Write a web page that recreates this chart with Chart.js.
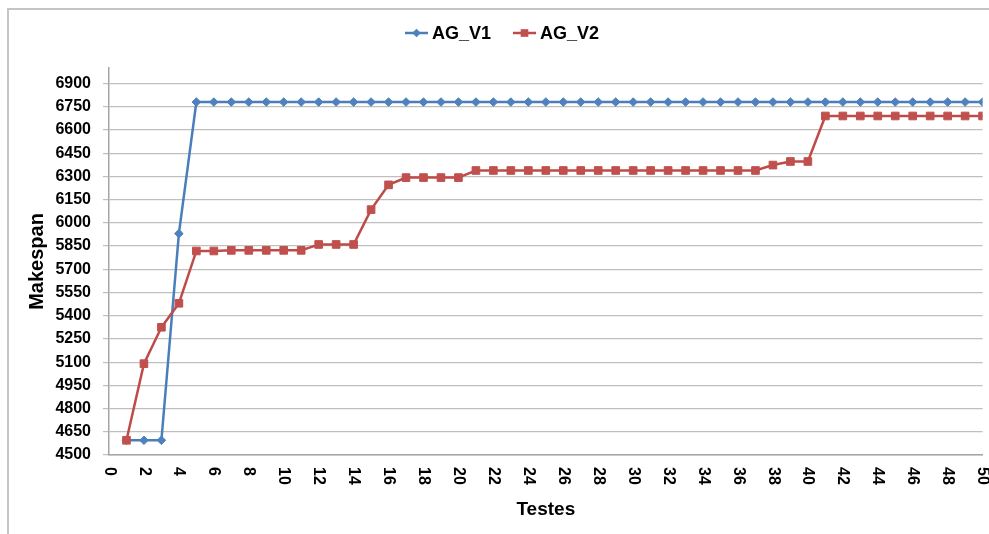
<!DOCTYPE html>
<html>
<head>
<meta charset="utf-8">
<script src="https://cdn.jsdelivr.net/npm/chart.js@4.4.0/dist/chart.umd.min.js"></script>
<style>
    html, body { margin: 0; padding: 0; background: #fff; }
    #wrap { width: 989px; height: 534px; }
</style>
</head>
<body>
<div id="wrap"><canvas id="makespanChart" width="989" height="534"></canvas></div>
<script>
const testes = [1, 2, 3, 4, 5, 6, 7, 8, 9, 10,
    11, 12, 13, 14, 15, 16, 17, 18, 19, 20,
    21, 22, 23, 24, 25, 26, 27, 28, 29, 30,
    31, 32, 33, 34, 35, 36, 37, 38, 39, 40,
    41, 42, 43, 44, 45, 46, 47, 48, 49, 50];

const agV1 = [4595, 4595, 4595, 5930, 6780, 6780, 6780, 6780, 6780, 6780,
    6780, 6780, 6780, 6780, 6780, 6780, 6780, 6780, 6780, 6780,
    6780, 6780, 6780, 6780, 6780, 6780, 6780, 6780, 6780, 6780,
    6780, 6780, 6780, 6780, 6780, 6780, 6780, 6780, 6780, 6780,
    6780, 6780, 6780, 6780, 6780, 6780, 6780, 6780, 6780, 6780];

const agV2 = [4595, 5090, 5325, 5480, 5818, 5818, 5822, 5822, 5822, 5822,
    5822, 5860, 5860, 5860, 6085, 6245, 6292, 6292, 6292, 6292,
    6338, 6338, 6338, 6338, 6338, 6338, 6338, 6338, 6338, 6338,
    6338, 6338, 6338, 6338, 6338, 6338, 6338, 6373, 6396, 6396,
    6690, 6690, 6690, 6690, 6690, 6690, 6690, 6690, 6690, 6690];

const seriesNames = ['AG_V1', 'AG_V2'];
const yTicks = [4500, 4650, 4800, 4950, 5100, 5250, 5400, 5550, 5700,
    5850, 6000, 6150, 6300, 6450, 6600, 6750, 6900];
const xTicks = [0, 2, 4, 6, 8, 10, 12, 14, 16, 18, 20, 22, 24,
    26, 28, 30, 32, 34, 36, 38, 40, 42, 44, 46, 48, 50];

const blue = '#4a7ebb';
const red = '#be4b48';
const fam = "'Liberation Sans', Arial, sans-serif";

// thin grey frame round the chart (left + top edges only are visible)
const frame = {
    id: 'frame',
    beforeDraw(chart) {
        const ctx = chart.ctx;
        ctx.save();
        ctx.strokeStyle = '#c4c4c4';
        ctx.lineWidth = 2;
        ctx.beginPath();
        ctx.moveTo(8, 534);
        ctx.lineTo(8, 9);
        ctx.lineTo(989, 9);
        ctx.stroke();
        ctx.restore();
    }
};

function marker(ctx, style, x, y, r) {
    ctx.beginPath();
    if (style === 'rectRot') {
        ctx.moveTo(x - r, y);
        ctx.lineTo(x, y - r);
        ctx.lineTo(x + r, y);
        ctx.lineTo(x, y + r);
    } else {
        const s = Math.SQRT1_2 * r;
        ctx.rect(x - s, y - s, 2 * s, 2 * s);
    }
    ctx.closePath();
    ctx.fill();
}

// x labels read top to bottom, so they are drawn here
const xLabels = {
    id: 'xLabels',
    afterDraw(chart) {
        const ctx = chart.ctx;
        const sc = chart.scales.x;
        ctx.save();
        ctx.font = 'bold 16px ' + fam;
        ctx.fillStyle = '#000';
        ctx.textAlign = 'left';
        ctx.textBaseline = 'middle';
        sc.ticks.forEach(t => {
            ctx.save();
            ctx.translate(sc.getPixelForValue(t.value), sc.top + 12);
            ctx.rotate(Math.PI / 2);
            ctx.fillText(String(t.value), 0, 0);
            ctx.restore();
        });
        ctx.restore();
    }
};

const legendBox = {
    id: 'legendBox',
    afterDraw(chart) {
        const ctx = chart.ctx;
        const y = 33;
        const starts = [405, 513];
        ctx.save();
        ctx.font = 'bold 18px ' + fam;
        ctx.textBaseline = 'middle';
        chart.data.datasets.forEach((ds, i) => {
            const x0 = starts[i];
            ctx.strokeStyle = ds.borderColor;
            ctx.lineWidth = 2.5;
            ctx.beginPath();
            ctx.moveTo(x0, y);
            ctx.lineTo(x0 + 23, y);
            ctx.stroke();
            ctx.fillStyle = ds.backgroundColor;
            marker(ctx, ds.pointStyle, x0 + 11.5, y, ds.pointRadius);
            ctx.fillStyle = '#000';
            ctx.fillText(ds.label, x0 + 27, y + 1);
        });
        ctx.restore();
    }
};

const ctx = document.getElementById('makespanChart').getContext('2d');
const makespanChart = new Chart(ctx, {
    type: 'line',
    data: {
        datasets: [{
            label: seriesNames[0],
            data: testes.map((t, i) => ({ x: t, y: agV1[i] })),
            borderColor: blue,
            backgroundColor: '#4f81bd',
            borderWidth: 2.5,
            pointStyle: 'rectRot',
            pointRadius: 4.3,
            pointBorderWidth: 1,
            pointBorderColor: '#4f81bd',
            tension: 0,
            order: 1
        }, {
            label: seriesNames[1],
            data: testes.map((t, i) => ({ x: t, y: agV2[i] })),
            borderColor: red,
            backgroundColor: '#c0504d',
            borderWidth: 2.5,
            pointStyle: 'rect',
            pointRadius: 5.4,
            pointBorderWidth: 1,
            pointBorderColor: '#c0504d',
            tension: 0,
            order: 0
        }]
    },
    options: {
        responsive: false,
        animation: false,
        devicePixelRatio: 1,
        layout: { padding: { top: 68, right: 6, left: 0, bottom: 0 } },
        plugins: {
            legend: { display: false },
            tooltip: { enabled: false }
        },
        scales: {
            x: {
                type: 'linear',
                min: 0,
                max: 50,
                afterBuildTicks: s => { s.ticks = xTicks.map(v => ({ value: v })); },
                afterFit: s => { s.height = 79; },
                ticks: { display: false },
                grid: { display: false },
                border: { display: true, color: '#a6a6a6', width: 1.5 },
                title: {
                    display: true,
                    text: 'Testes',
                    color: '#000',
                    font: { family: fam, size: 19, weight: 'bold' },
                    padding: { top: 0, bottom: 13 }
                }
            },
            y: {
                min: 4500,
                max: 7000,
                afterBuildTicks: s => { s.ticks = yTicks.map(v => ({ value: v })); },
                afterFit: s => { s.width = 109; },
                ticks: {
                    color: '#000',
                    padding: 12,
                    font: { family: fam, size: 16, weight: 'bold' },
                    callback: v => String(v)
                },
                grid: { color: '#bfbfbf', lineWidth: 1.2, drawTicks: true, tickLength: 6 },
                border: { color: '#a6a6a6', width: 1.5 },
                title: {
                    display: true,
                    text: 'Makespan',
                    color: '#000',
                    font: { family: fam, size: 20, weight: 'bold' },
                    padding: { top: 25, bottom: 0 }
                }
            }
        }
    },
    plugins: [frame, xLabels, legendBox]
});
</script>
</body>
</html>
